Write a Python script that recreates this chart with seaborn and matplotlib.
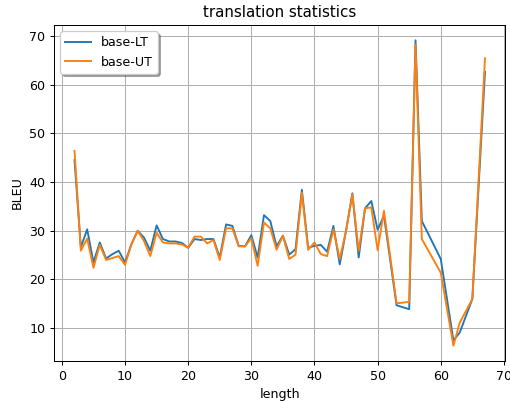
import matplotlib
matplotlib.use("Agg")
import matplotlib.pyplot as plt
import seaborn as sns
import pandas as pd

length = [2, 3, 4, 5, 6, 7, 8, 9, 10, 11, 12, 13, 14, 15, 16, 17, 18, 19, 20,
          21, 22, 23, 24, 25, 26, 27, 28, 29, 30, 31, 32, 33, 34, 35, 36, 37, 38, 39,
          40, 41, 42, 43, 44, 45, 46, 47, 48, 49, 50, 51, 53, 55, 56, 57, 60, 62, 63, 65, 67]
base_lt = [44.5, 26.6, 30.3, 23.5, 27.6, 24.3, 25.2, 25.9, 23.5, 27.2, 30.0, 28.6, 25.9, 31.1, 28.3, 27.8, 27.8, 27.5, 26.5,
           28.3, 28.1, 28.3, 28.3, 24.5, 31.3, 31.0, 26.9, 26.8, 29.1, 24.5, 33.2, 32.0, 26.8, 29.0, 25.1, 26.2, 38.4, 26.5,
           26.9, 27.1, 25.7, 31.0, 23.1, 30.0, 37.7, 24.5, 34.6, 36.1, 30.2, 33.1, 14.7, 13.9, 69.1, 32.0, 24.2, 7.5, 9.1, 16.0, 62.6]
base_ut = [46.4, 25.9, 28.4, 22.4, 27.1, 24.0, 24.4, 24.8, 23.0, 27.2, 30.0, 27.9, 24.8, 29.6, 27.6, 27.4, 27.4, 27.2, 26.5,
           28.8, 28.8, 27.4, 28.1, 24.0, 30.5, 30.5, 26.8, 26.8, 28.5, 22.8, 31.7, 30.5, 26.1, 29.0, 24.2, 25.1, 37.8, 26.1,
           27.6, 25.2, 24.8, 30.3, 24.2, 30.0, 37.5, 25.9, 34.6, 34.8, 26.0, 34.1, 15.1, 15.4, 68.2, 28.3, 21.4, 6.4, 11.1, 16.0, 65.4]

df = pd.DataFrame({"length": length * 2,
                   "BLEU": base_lt + base_ut,
                   "model": ["base-LT"] * len(length) + ["base-UT"] * len(length)})

DPI = 91
fig = plt.figure(figsize=(511 / DPI, 401 / DPI), dpi=DPI)
ax = fig.add_axes([54 / 511, 1 - 361 / 401, (505.5 - 54) / 511, (361 - 25) / 401])
sns.lineplot(data=df, x="length", y="BLEU", hue="model",
             palette=["#1f77b4", "#ff7f0e"], ax=ax, linewidth=1.5)
ax.grid(True)
ax.set_title("translation statistics")
ax.set_xlabel("length")
ax.set_ylabel("BLEU")
ax.legend(title=None, loc="upper left", shadow=True, fancybox=True)
fig.savefig("out.png", dpi=DPI)
